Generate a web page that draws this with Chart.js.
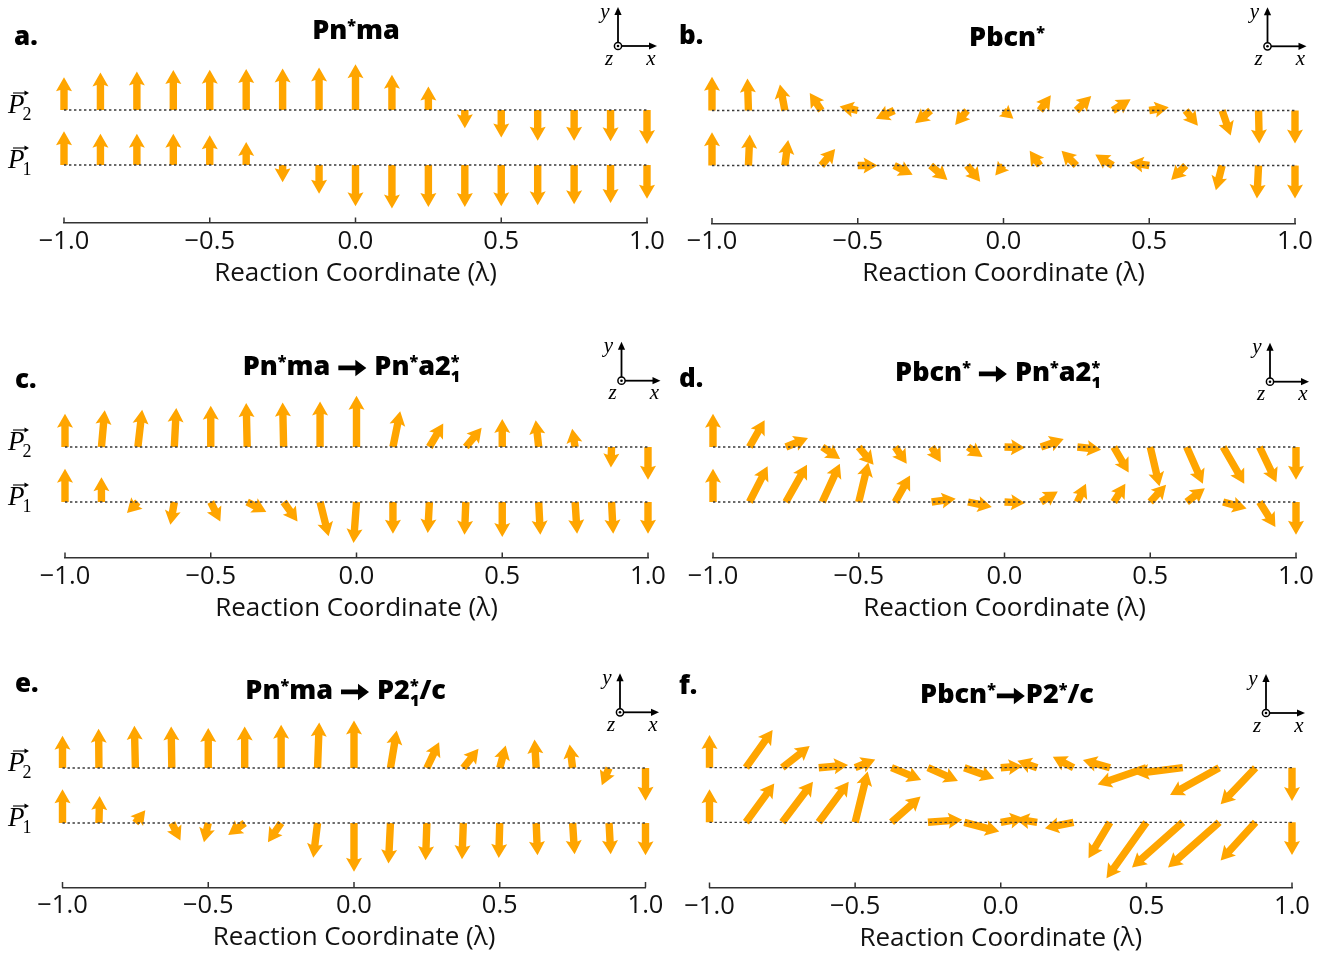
<!DOCTYPE html>
<html><head><meta charset="utf-8">
<script src="https://cdn.jsdelivr.net/npm/chart.js@4.4.0/dist/chart.umd.min.js"></script>
<style>
html,body{margin:0;padding:0;background:#fff;}
#wrap{position:relative;width:1329px;height:958px;overflow:hidden;background:#fff;}
#wrap canvas{position:absolute;}
</style></head><body><div id="wrap"></div>
<script>
// ---------------- DATA ----------------
const LAMBDA = [-1,-0.875,-0.75,-0.625,-0.5,-0.375,-0.25,-0.125,0,0.125,0.25,0.375,0.5,0.625,0.75,0.875,1];
const X_TICKS = [-1,-0.5,0,0.5,1];
const X_LABEL = 'Reaction Coordinate (\u03bb)';
const ROW_NAMES = ['2','1'];

// a. Pn*ma
const a_P2x = [0,0,0,0,0,0,0,0,0,0,0,0,0,0,0,0,0];
const a_P2y = [0.99,1.14,1.17,1.21,1.22,1.24,1.26,1.29,1.39,1.07,0.71,-0.55,-0.83,-0.93,-0.93,-0.95,-1.03];
const a_P1x = [0,0,0,0,0,0,0,0,0,0,0,0,0,0,0,0,0];
const a_P1y = [1.02,0.95,0.95,0.95,0.90,0.70,-0.52,-0.87,-1.25,-1.32,-1.27,-1.27,-1.25,-1.22,-1.19,-1.15,-1.02];
// b. Pbcn*
const b_P2x = [0,-0.03,-0.15,-0.35,-0.55,-0.56,-0.47,-0.36,0.30,0.33,0.45,0.54,0.59,0.37,0.26,0.02,0];
const b_P2y = [1.02,0.97,0.79,0.53,0.12,-0.25,-0.39,-0.44,-0.25,0.46,0.44,0.34,0.10,-0.46,-0.76,-1.0,-1.0];
const b_P1x = [0,0.04,0.10,0.42,0.60,0.56,0.51,0.40,-0.25,-0.31,-0.45,-0.53,-0.60,-0.44,-0.19,-0.05,0];
const b_P1y = [1.01,0.94,0.77,0.50,0.0,-0.28,-0.44,-0.49,-0.30,0.45,0.45,0.33,0.09,-0.44,-0.75,-1.0,-1.0];
// c. Pn*ma -> Pn*a2_1*
const c_P2x = [0,0.10,0.13,0.06,0,-0.03,-0.03,0,0,0.22,0.42,0.48,0,-0.09,-0.09,-0.02,0];
const c_P2y = [1.01,1.11,1.13,1.18,1.25,1.33,1.35,1.38,1.55,1.08,0.71,0.58,0.85,0.81,0.55,-0.62,-0.99];
const c_P1x = [0,0,-0.33,-0.12,0.29,0.58,0.42,0.26,-0.09,0,-0.05,-0.04,0,0.05,0.06,0.05,0];
const c_P1y = [1.01,0.75,-0.33,-0.69,-0.59,-0.30,-0.59,-1.04,-1.24,-0.96,-0.94,-0.99,-1.06,-0.99,-0.96,-0.96,-0.96];
// d. Pbcn* -> Pn*a2_1*
const d_P2x = [0,0.46,0.67,0.54,0.45,0.35,0.28,0.44,0.62,0.69,0.72,0.45,0.28,0.49,0.64,0.51,0];
const d_P2y = [1.01,0.81,0.27,-0.36,-0.54,-0.51,-0.46,-0.30,-0.02,0.24,-0.08,-0.77,-1.19,-1.11,-1.11,-1.07,-0.99];
const d_P1x = [0,0.55,0.64,0.53,0.29,0.45,0.73,0.72,0.62,0.51,0.26,0.35,0.48,0.55,0.71,0.48,0];
const d_P1y = [1.01,1.08,1.13,1.16,1.20,0.80,0.10,-0.15,-0.03,0.32,0.55,0.55,0.52,0.42,-0.20,-0.76,-0.99];
// e. Pn*ma -> P2_1*/c
const e_P2x = [0,-0.01,-0.03,-0.02,0,0,0,0.05,0,0.19,0.37,0.46,0.18,-0.05,-0.09,-0.22,0];
const e_P2y = [0.98,1.19,1.28,1.26,1.21,1.26,1.31,1.38,1.44,1.14,0.78,0.58,0.68,0.86,0.71,-0.52,-0.99];
const e_P1x = [0,0.02,0.30,0.26,-0.13,-0.50,-0.40,-0.13,0,-0.06,-0.04,-0.04,-0.03,0.04,0.06,0.05,0];
const e_P1y = [1.02,0.82,0.39,-0.53,-0.58,-0.36,-0.58,-1.05,-1.48,-1.23,-1.13,-1.10,-1.06,-0.98,-0.95,-0.95,-0.98];
// f. Pbcn* -> P2*/c
const f_P2x = [0,0.81,0.83,0.89,0.61,0.90,0.91,0.91,0.66,-0.60,-0.63,-0.82,-1.48,-1.45,-1.49,-1.06,0];
const f_P2y = [0.99,1.14,0.66,0.08,0.25,-0.37,-0.40,-0.33,0.05,0.21,0.33,0.23,-0.51,-0.18,-0.83,-1.11,-1.01];
const f_P1x = [0,0.86,0.93,0.91,0.38,0.88,1.04,1.06,0.71,-0.66,-0.87,-0.65,-1.21,-1.54,-1.55,-1.06,0];
const f_P1y = [1.0,1.18,1.23,1.23,1.54,0.78,0.08,-0.28,0.12,0.10,-0.18,-1.09,-1.70,-1.37,-1.37,-1.16,-0.99];

// titles (text runs)
const TITLE_A = [['Pn'],['*','sup'],['ma']];
const TITLE_B = [['Pbcn'],['*','sup']];
const TITLE_C = [['Pn'],['*','sup'],['ma '],['\u2192','arrow'],[' Pn'],['*','sup'],['a2'],['*','stack','1']];
const TITLE_D = [['Pbcn'],['*','sup'],[' '],['\u2192','arrow'],[' Pn'],['*','sup'],['a2'],['*','stack','1']];
const TITLE_E = [['Pn'],['*','sup'],['ma '],['\u2192','arrow'],[' P2'],['*','stack','1'],['/c']];
const TITLE_F = [['Pbcn'],['*','sup'],['\u2192','arrow'],['P2'],['*','sup'],['/c']];

// ---------------- LAYOUT / STYLE ----------------
const ARROW_COLOR = '#FFA500';
const ARROW_UNIT = 0.1132;   // length of a unit vector, in x-axis units
const SANS = '"Open Sans", Lato, sans-serif';
const PANELS = [
  {letter:'a.', title:TITLE_A, rows:[[a_P2x,a_P2y],[a_P1x,a_P1y]], rowLabels:true,
   L:{cL:0,cT:0,cW:700,xMin:64,xMax:647,p2:110,p1:165,axis:223,letter:[14,37.5],title:[356,29.5],icon:[618,46]}},
  {letter:'b.', title:TITLE_B, rows:[[b_P2x,b_P2y],[b_P1x,b_P1y]], rowLabels:false,
   L:{cL:650,cT:0,cW:679,xMin:712,xMax:1295,p2:110.5,p1:165.5,axis:223.5,letter:[679,36.5],title:[1007,36],icon:[1267.5,46.3]}},
  {letter:'c.', title:TITLE_C, rows:[[c_P2x,c_P2y],[c_P1x,c_P1y]], rowLabels:true,
   L:{cL:0,cT:315,cW:700,xMin:65,xMax:648,p2:447,p1:502,axis:558,letter:[15,380.5],title:[351.5,365],icon:[621.5,380.7]}},
  {letter:'d.', title:TITLE_D, rows:[[d_P2x,d_P2y],[d_P1x,d_P1y]], rowLabels:false,
   L:{cL:650,cT:315,cW:679,xMin:713,xMax:1296,p2:447,p1:502,axis:558,letter:[679,380],title:[998,371],icon:[1270,381.7]}},
  {letter:'e.', title:TITLE_E, rows:[[e_P2x,e_P2y],[e_P1x,e_P1y]], rowLabels:true,
   L:{cL:0,cT:640,cW:700,xMin:62.5,xMax:645.5,p2:768,p1:823,axis:887.5,letter:[15,685],title:[345.6,689],icon:[620,712.3]}},
  {letter:'f.', title:TITLE_F, rows:[[f_P2x,f_P2y],[f_P1x,f_P1y]], rowLabels:false,
   L:{cL:650,cT:640,cW:679,xMin:709.5,xMax:1292,p2:767.7,p1:822.3,axis:888,letter:[679,686.5],title:[1007,693],icon:[1266,713]}}
];
const AXIS_BOX_H = 70;

function fmtTick(v){ return (v < 0 ? '\u2212' : '') + Math.abs(v).toFixed(1); }

function drawArrow(ctx, x0, y0, dx, dy, color){
  const L = Math.hypot(dx, dy);
  if (L < 0.5) return;
  const SW = 7.4, HW = 16, HL = 14, HAL = 12.6;
  const s = L < HL ? L / HL : 1;
  const sw = SW*s, hw = HW*s, hl = HL*s, hal = HAL*s;
  ctx.save();
  ctx.translate(x0, y0);
  ctx.rotate(Math.atan2(dy, dx));
  ctx.beginPath();
  ctx.moveTo(0, -sw/2);
  ctx.lineTo(L-hal, -sw/2);
  ctx.lineTo(L-hl, -hw/2);
  ctx.lineTo(L, 0);
  ctx.lineTo(L-hl, hw/2);
  ctx.lineTo(L-hal, sw/2);
  ctx.lineTo(0, sw/2);
  ctx.closePath();
  ctx.fillStyle = color;
  ctx.fill();
  ctx.restore();
}

// rich title text: normal runs, superscripts, stacked sup/sub and a heavy arrow symbol
function drawRich(ctx, segs, cx, cy, size){
  const F = s => `800 ${s}px ${SANS}`;
  const small = size*0.6;
  const base = cy + size*0.36;
  const ARW = 28;
  const parts = segs.map(sg => {
    const [t, kind, t2] = sg;
    let w;
    if (kind === 'sup') { ctx.font = F(small); w = ctx.measureText(t).width; }
    else if (kind === 'stack') { ctx.font = F(small); w = Math.max(ctx.measureText(t).width, ctx.measureText(t2).width); }
    else if (kind === 'arrow') { w = ARW + 2; }
    else { ctx.font = F(size); w = ctx.measureText(t).width; }
    return {t, kind, t2, w};
  });
  const total = parts.reduce((a,p)=>a+p.w, 0);
  let x = cx - total/2;
  ctx.textAlign = 'left'; ctx.fillStyle = '#000';
  parts.forEach(p => {
    ctx.textBaseline = 'alphabetic';
    if (p.kind === 'sup') { ctx.font = F(small); ctx.fillText(p.t, x, base - size*0.3); }
    else if (p.kind === 'stack') { ctx.font = F(small); ctx.fillText(p.t, x, base - size*0.3); ctx.fillText(p.t2, x, base + size*0.27); }
    else if (p.kind === 'arrow') {
      const ay = base - size*0.25, x0 = x + 1, x1 = x0 + ARW, sh = 2.4, hh = 8.3, hl = 11;
      ctx.beginPath();
      ctx.moveTo(x0, ay - sh); ctx.lineTo(x1 - hl, ay - sh); ctx.lineTo(x1 - hl, ay - hh);
      ctx.lineTo(x1, ay); ctx.lineTo(x1 - hl, ay + hh); ctx.lineTo(x1 - hl, ay + sh); ctx.lineTo(x0, ay + sh);
      ctx.closePath(); ctx.fill();
    }
    else { ctx.font = F(size); ctx.fillText(p.t, x, base); }
    x += p.w;
  });
}

function drawIcon(ctx, ox, oy){
  const len = 39;
  ctx.save();
  ctx.strokeStyle = '#000'; ctx.fillStyle = '#000'; ctx.lineWidth = 1.8;
  ctx.beginPath(); ctx.moveTo(ox, oy - 3.5); ctx.lineTo(ox, oy - len + 6); ctx.stroke();
  ctx.beginPath(); ctx.moveTo(ox + 3.5, oy); ctx.lineTo(ox + len - 6, oy); ctx.stroke();
  ctx.beginPath(); ctx.moveTo(ox, oy - len); ctx.lineTo(ox - 3.6, oy - len + 8); ctx.lineTo(ox + 3.6, oy - len + 8); ctx.closePath(); ctx.fill();
  ctx.beginPath(); ctx.moveTo(ox + len, oy); ctx.lineTo(ox + len - 8, oy - 3.6); ctx.lineTo(ox + len - 8, oy + 3.6); ctx.closePath(); ctx.fill();
  ctx.lineWidth = 1.5;
  ctx.beginPath(); ctx.arc(ox, oy, 3.6, 0, Math.PI*2); ctx.stroke();
  ctx.beginPath(); ctx.arc(ox, oy, 1.3, 0, Math.PI*2); ctx.fill();
  ctx.font = 'italic 21px "Liberation Serif"';
  ctx.textAlign = 'center'; ctx.textBaseline = 'middle';
  ctx.fillText('y', ox - 13, oy - 34);
  ctx.fillText('z', ox - 9, oy + 13);
  ctx.fillText('x', ox + 33, oy + 13);
  ctx.restore();
}

function drawRowLabel(ctx, x, y, sub){
  ctx.save();
  ctx.fillStyle = '#000'; ctx.strokeStyle = '#000';
  ctx.textAlign = 'left'; ctx.textBaseline = 'alphabetic';
  ctx.font = 'italic 27px "Liberation Serif"';
  ctx.fillText('P', x, y + 3);
  const pw = ctx.measureText('P').width;
  ctx.font = '18px "Liberation Serif"';
  ctx.fillText(sub, x + pw - 2, y + 9.5);
  // vector arrow over P
  const ay = y - 17, ax0 = x + 5, ax1 = x + 21;
  ctx.lineWidth = 1.1;
  ctx.beginPath(); ctx.moveTo(ax0, ay); ctx.lineTo(ax1 - 2, ay); ctx.stroke();
  ctx.beginPath(); ctx.moveTo(ax1, ay); ctx.lineTo(ax1 - 4.5, ay - 2.6); ctx.lineTo(ax1 - 4.5, ay + 2.6); ctx.closePath(); ctx.fill();
  ctx.restore();
}

function makePlugin(panel){
  const Lo = panel.L;
  return {
    id: 'quiver',
    beforeDatasetsDraw(chart){
      const ctx = chart.ctx, xs = chart.scales.x;
      const unit = Math.abs(xs.getPixelForValue(ARROW_UNIT) - xs.getPixelForValue(0));
      chart.data.datasets.forEach((ds, i) => {
        if (!ds.quiver) return;
        const meta = chart.getDatasetMeta(i);
        meta.data.forEach((el, j) => {
          const d = ds.data[j];
          drawArrow(ctx, el.x, el.y, d.u*unit, -d.v*unit, ARROW_COLOR);
        });
      });
    },
    afterDraw(chart){
      const ctx = chart.ctx, xs = chart.scales.x, ys = chart.scales.y;
      const yAxis = chart.chartArea.bottom;
      // inward tick marks
      ctx.save();
      ctx.strokeStyle = '#333'; ctx.lineWidth = 1.5;
      X_TICKS.forEach(v => {
        const px = xs.getPixelForValue(v);
        ctx.beginPath(); ctx.moveTo(px, yAxis); ctx.lineTo(px, yAxis - 5.5); ctx.stroke();
      });
      ctx.restore();
      // row labels
      if (panel.rowLabels) {
        drawRowLabel(ctx, 8 - Lo.cL, ys.getPixelForValue(1), ROW_NAMES[0]);
        drawRowLabel(ctx, 8 - Lo.cL, ys.getPixelForValue(0), ROW_NAMES[1]);
      }
      // panel letter
      ctx.save();
      ctx.fillStyle = '#000'; ctx.font = `800 26px ${SANS}`;
      ctx.textAlign = 'left'; ctx.textBaseline = 'middle';
      ctx.fillText(panel.letter, Lo.letter[0] - Lo.cL, Lo.letter[1] - Lo.cT);
      ctx.restore();
      // title
      ctx.save();
      drawRich(ctx, panel.title, Lo.title[0] - Lo.cL, Lo.title[1] - Lo.cT, 27);
      ctx.restore();
      // coordinate icon
      drawIcon(ctx, Lo.icon[0] - Lo.cL, Lo.icon[1] - Lo.cT);
    }
  };
}

const wrap = document.getElementById('wrap');
PANELS.forEach(panel => {
  const Lo = panel.L;
  const cH = Math.round(Lo.axis + AXIS_BOX_H - Lo.cT);
  const cv = document.createElement('canvas');
  cv.width = Lo.cW; cv.height = cH;
  cv.style.left = Lo.cL + 'px'; cv.style.top = Lo.cT + 'px';
  cv.style.width = Lo.cW + 'px'; cv.style.height = cH + 'px';
  wrap.appendChild(cv);
  const spacing = Lo.p1 - Lo.p2;
  const topPx = Lo.p2 - spacing;
  const axisLocal = Lo.axis - Lo.cT;
  const padBottom = cH - axisLocal - AXIS_BOX_H;
  const yMin = -(Lo.axis - Lo.p1)/spacing;
  const yMax = 1 + (Lo.p2 - topPx)/spacing;
  const mk = (xs, vs, yv) => LAMBDA.map((l, i) => ({x: l, y: yv, u: xs[i], v: vs[i]}));
  const base = {showLine:true, borderColor:'#3a3a3a', borderWidth:1.3, borderDash:[2.4,2.6], pointRadius:0, clip:false};
  new Chart(cv, {
    type: 'scatter',
    data: {
      datasets: [
        Object.assign({label:'P2 baseline', data:[{x:-1,y:1},{x:1,y:1}]}, base),
        Object.assign({label:'P1 baseline', data:[{x:-1,y:0},{x:1,y:0}]}, base),
        {label:'P2', quiver:true, data: mk(panel.rows[0][0], panel.rows[0][1], 1), pointRadius:0, clip:false},
        {label:'P1', quiver:true, data: mk(panel.rows[1][0], panel.rows[1][1], 0), pointRadius:0, clip:false}
      ]
    },
    options: {
      responsive:false, animation:false, devicePixelRatio:1, events:[],
      layout:{padding:{left: Lo.xMin - Lo.cL, right: Lo.cL + Lo.cW - Lo.xMax, top: topPx - Lo.cT, bottom: padBottom}},
      plugins:{legend:{display:false}, tooltip:{enabled:false}, title:{display:false}},
      scales:{
        x:{type:'linear', min:-1, max:1,
           afterBuildTicks: s => { s.ticks = X_TICKS.map(v => ({value:v})); },
           afterFit: s => { s.height = AXIS_BOX_H; },
           grid:{display:false, drawTicks:false},
           border:{display:true, color:'#333', width:1.5},
           ticks:{padding:3, color:'#111', font:{family:SANS, size:25.5}, maxRotation:0, autoSkip:false, callback: v => fmtTick(v)},
           title:{display:true, text:X_LABEL, color:'#111', font:{family:SANS, size:26}, padding:{top:0, bottom:4}}},
        y:{type:'linear', display:false, min:yMin, max:yMax}
      }
    },
    plugins:[makePlugin(panel)]
  });
});
</script></body></html>
